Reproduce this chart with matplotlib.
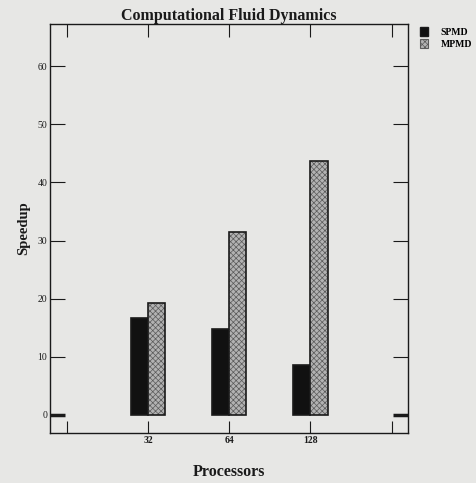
import matplotlib.pyplot as plt
import matplotlib.patches as mpatches
import numpy as np

plt.rcParams["font.family"] = ["Liberation Serif", "DejaVu Serif"]
plt.rcParams["hatch.linewidth"] = 0.5

# ===============================================================
# Data
# ===============================================================
categories = ["", "32", "64", "128", ""]
spmd = [0, 16.7, 14.8, 8.6, 0]
mpmd = [0, 19.2, 31.4, 43.6, 0]
y_ticks = [0, 10, 20, 30, 40, 50, 60]

bg = "#e7e7e5"
ink = "#1a1a1a"
hatch_fill = "#b2b2b2"
hatch_ink = "#5a5a5a"

fig = plt.figure(figsize=(4.77, 4.83), dpi=100, facecolor=bg)
ax = fig.add_axes([0.105, 0.1035, 0.75, 0.8465], facecolor=bg)

x = np.arange(len(categories))
w = 0.21
shown = [i for i in x if categories[i]]
ax.bar(x[shown] - w / 2, [spmd[i] for i in shown], w, color="#111111",
       edgecolor=ink, linewidth=1.2)
# hatched fill first (grey hatch lines), then a black outline on top
ax.bar(x[shown] + w / 2, [mpmd[i] for i in shown], w, color=hatch_fill,
       edgecolor=hatch_ink, linewidth=0, hatch="xxxxxx")
ax.bar(x[shown] + w / 2, [mpmd[i] for i in shown], w, fill=False,
       edgecolor=ink, linewidth=1.2)

ax.set_xlim(-0.21, 4.2)
ax.set_ylim(-3.1, 67.2)
ax.set_xticks(x)
ax.set_xticklabels(categories, fontsize=7, fontweight="bold", color=ink)
ax.set_yticks(y_ticks)
ax.set_yticklabels([str(v) for v in y_ticks], fontsize=7, color=ink)
ax.tick_params(axis="both", direction="in", length=9, width=0.8, color=ink,
               top=True, right=True, pad=2)
ax.tick_params(axis="y", length=11)

# heavier zero tick marks on both sides
zero_tick = ax.yaxis.get_major_ticks()[0]
zero_tick.tick1line.set_markeredgewidth(2.5)
zero_tick.tick2line.set_markeredgewidth(2.5)

for s in ax.spines.values():
    s.set_color(ink)
    s.set_linewidth(1.0)

ax.set_title("Computational Fluid Dynamics", fontsize=11.5, fontweight="bold",
             color=ink, pad=3)
ax.set_xlabel("Processors", fontsize=11.5, fontweight="bold", color=ink, labelpad=14)
ax.set_ylabel("Speedup", fontsize=10.5, fontweight="bold", color=ink, labelpad=5)

leg_handles = [
    mpatches.Patch(facecolor="#111111", edgecolor=ink, label="SPMD"),
    mpatches.Patch(facecolor=hatch_fill, edgecolor=hatch_ink, hatch="xxxxxx",
                   linewidth=0.8, label="MPMD"),
]
fig.legend(handles=leg_handles, loc="upper left", bbox_to_anchor=(0.862, 0.962),
           frameon=False, handlelength=0.8, handleheight=1.1, handletextpad=1.3,
           labelspacing=0.15, prop={"size": 7, "weight": "bold"})

fig.savefig("out.png", facecolor=bg)
plt.close()
